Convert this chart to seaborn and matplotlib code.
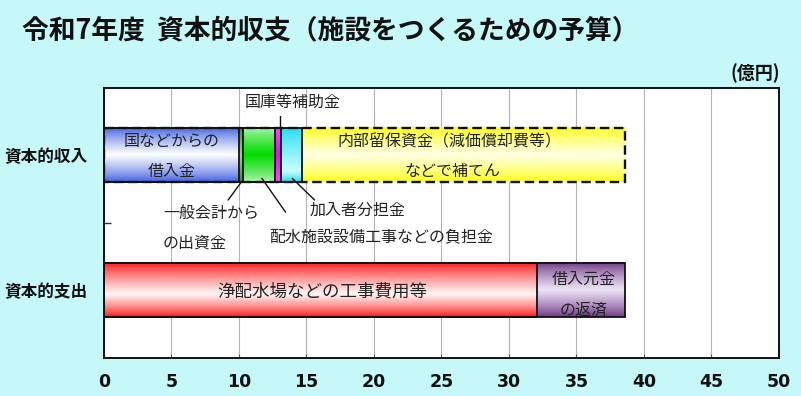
import numpy as np
import pandas as pd
import matplotlib
matplotlib.use("Agg")
import matplotlib.pyplot as plt
from matplotlib.colors import to_rgb
import seaborn as sns

# データ（億円）
categories = ["資本的収入", "資本的支出"]
income_items = ["国などからの借入金", "一般会計からの出資金", "配水施設設備工事などの負担金",
                "国庫等補助金", "加入者分担金", "内部留保資金（減価償却費等）などで補てん"]
income_values = [10.0, 0.3, 2.4, 0.4, 1.6, 23.9]
expense_items = ["浄配水場などの工事費用等", "借入元金の返済"]
expense_values = [32.1, 6.5]
x_ticks = list(range(0, 55, 5))

# (edge colour, centre colour, centre position)
income_colors = [("#3d5de0", "#ffffff", 0.5), ("#3f7f3f", "#9ccc9c", 0.5),
                 ("#b4f4b4", "#00dc00", 0.5), ("#ff50ff", "#d818d8", 0.5),
                 ("#18dcee", "#c8fdff", 0.8), ("#ffff14", "#ffffe4", 0.5)]
expense_colors = [("#ff1414", "#fff6f6", 0.58), ("#6c3384", "#eee4f6", 0.5)]

sns.set_theme(style="white")
plt.rcParams['font.family'] = ['Noto Sans CJK JP', 'DejaVu Sans']
plt.rcParams['axes.unicode_minus'] = False

bg = "#c6f8fa"
fig = plt.figure(figsize=(8.01, 3.96), dpi=100, facecolor=bg)
ax = fig.add_axes([0.1298, 0.096, 0.8427, 0.682])
ax.set_facecolor("white")

# 積み上げ用のテーブル
rows = []
for cat, items, vals, cols in [(categories[0], income_items, income_values, income_colors),
                               (categories[1], expense_items, expense_values, expense_colors)]:
    ends = np.cumsum(vals)
    for item, v, e, c in zip(items, vals, ends, cols):
        rows.append(dict(cat=cat, item=item, value=v, start=e - v, end=e,
                         edge=c[0], centre=c[1], pos=c[2]))
df = pd.DataFrame(rows)

bar_h = 0.4
# 長い順に重ねて描く（seaborn の barplot で累積値を描画）
for _, r in df.sort_values("end", ascending=False).iterrows():
    sns.barplot(x=[r["end"]], y=[r["cat"]], order=categories, orient="y",
                width=bar_h, ax=ax, color="white")
    p = ax.patches[-1]
    p.set_facecolor("none")
    p.set_edgecolor("#111111")
    p.set_linewidth(1.3)
    p.set_zorder(3)
    if r["item"].startswith("内部留保"):
        p.set_linestyle((0, (4, 2)))
        p.set_linewidth(1.7)

    # グラデーション
    yi = categories.index(r["cat"])
    n = 80
    t = np.linspace(0, 1, n)
    c0 = r["pos"]
    w = np.where(t < c0, t / c0, (1 - t) / (1 - c0))
    w = np.clip(w, 0, 1) ** 0.8
    e = np.array(to_rgb(r["edge"]))
    c = np.array(to_rgb(r["centre"]))
    img = (e[None, :] * (1 - w[:, None]) + c[None, :] * w[:, None])[:, None, :]
    ax.imshow(img, extent=[r["start"], r["end"], yi + bar_h / 2, yi - bar_h / 2],
              origin="upper", aspect="auto", interpolation="bilinear", zorder=2)

ax.set_xlim(0, 50)
ax.set_ylim(1.5, -0.5)
ax.set_xticks(x_ticks)
ax.set_xticklabels([str(v) for v in x_ticks])
ax.set_xlabel("")
ax.set_ylabel("")
ax.grid(axis="x", color="#b4b4b4", linewidth=0.8, zorder=0)
ax.grid(axis="y", visible=False)
ax.set_axisbelow(True)

for s in ax.spines.values():
    s.set_visible(True)
    s.set_color("#111111")
    s.set_linewidth(1.4)

ax.set_yticks([0, 1])
ax.set_yticklabels(categories, fontsize=12, fontweight="bold", color="#111111")
ax.set_yticks([0.5], minor=True)
ax.tick_params(axis="y", which="major", length=0, pad=12)
ax.tick_params(axis="y", which="minor", direction="in", length=5, width=1, color="#333333", left=True)
ax.tick_params(axis="x", direction="in", length=3, width=0.8, color="#555555", bottom=True, pad=11)
for lab in ax.get_xticklabels():
    lab.set_family(['DejaVu Sans'])
    lab.set_fontsize(12.5)
    lab.set_fontweight("bold")
    lab.set_color("#111111")

txt = dict(color="#222222", fontsize=11.5, zorder=5)
# 棒の中の文字
ax.text(5.0, -0.10, "国などからの", ha="center", va="center", **txt)
ax.text(5.0, 0.12, "借入金", ha="center", va="center", **txt)
ax.text(25.6, -0.10, "内部留保資金（減価償却費等）", ha="center", va="center", **txt)
ax.text(25.85, 0.12, "などで補てん", ha="center", va="center", **txt)
ax.text(16.2, 1.01, "浄配水場などの工事費用等", ha="center", va="center",
        color="#222222", fontsize=12.6, zorder=5)
ax.text(35.5, 0.915, "借入元金", ha="center", va="center", **txt)
ax.text(35.5, 1.15, "の返済", ha="center", va="center", **txt)

# 引き出し線付きの文字
lines = dict(color="#111111", linewidth=1.0, zorder=4)
ax.text(13.96, -0.39, "国庫等補助金", ha="center", va="center", **txt)
ax.plot([13.05, 13.05], [-0.2, -0.29], **lines)
ax.text(4.37, 0.43, "一般会計から", ha="left", va="center", **txt)
ax.text(4.37, 0.65, "の出資金", ha="left", va="center", **txt)
ax.plot([10.15, 9.2], [0.2, 0.33], **lines)
ax.text(15.2, 0.405, "加入者分担金", ha="left", va="center", **txt)
ax.plot([13.95, 15.6], [0.17, 0.33], **lines)
ax.text(12.2, 0.605, "配水施設設備工事などの負担金", ha="left", va="center", **txt)
ax.plot([11.7, 13.45], [0.17, 0.42], **lines)

fig.text(0.027, 0.924, "令和7年度  資本的収支（施設をつくるための予算）",
         ha="left", va="center", fontsize=19.3, fontweight="bold", color="#111111")
fig.text(0.974, 0.816, "(億円)", ha="right", va="center", fontsize=13,
         fontweight="bold", color="#111111")

fig.savefig("out.png", dpi=100, facecolor=bg)
